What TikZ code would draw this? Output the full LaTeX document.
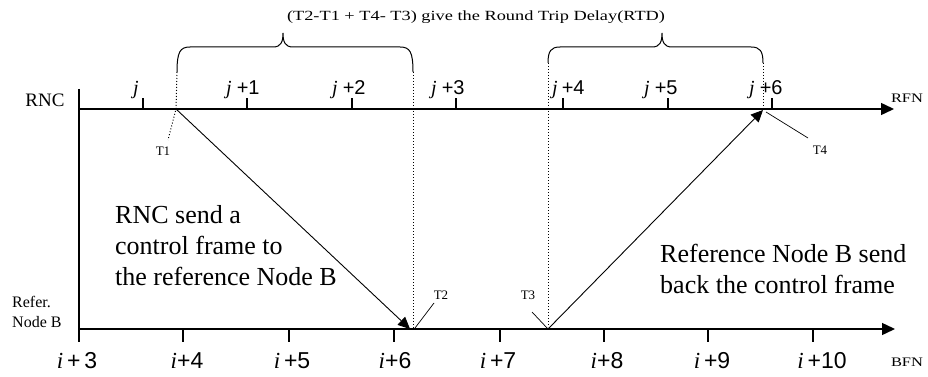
\documentclass[tikz,border=0pt]{standalone}
\usepackage{fontspec}
\setmainfont{Liberation Serif}
\newfontfamily\sansf{Liberation Sans}
\usetikzlibrary{arrows.meta}
\newcommand{\wfit}[2]{\resizebox{#1}{\height}{#2}}
\begin{document}
\begin{tikzpicture}[x=1pt,y=-1pt,
  axis/.style={line width=1.4pt},
  axarrow/.style={axis,-{Triangle[length=13pt,width=12pt]}},
  msg/.style={line width=0.9pt,-{Triangle[length=12pt,width=11pt]}},
  lead/.style={line width=0.7pt},
  dots/.style={line width=1pt,dotted},
  brace/.style={line width=1pt},
  tickl/.style={line width=1.3pt},
  toplab/.style={font=\fontsize{20}{20}\selectfont, anchor=base west, inner sep=0pt},
  botlab/.style={font=\fontsize{23}{23}\selectfont, anchor=base, inner sep=0pt},
  tlab/.style={font=\fontsize{13}{13}\selectfont, inner sep=0pt},
  body/.style={font=\fontsize{26}{31}\selectfont, align=left, anchor=north west, inner sep=0pt},
  side/.style={inner sep=0pt}
]
\path[use as bounding box] (0,0) rectangle (928,377);

% key points
\coordinate (vtop) at (79,89);
\coordinate (vbot) at (79,342);
\coordinate (rncL) at (79,109);
\coordinate (rncR) at (894,109);
\coordinate (bfnL) at (79,329);
\coordinate (bfnR) at (895,329);
\coordinate (T1p) at (176,109);
\coordinate (T2p) at (410,329);
\coordinate (T3p) at (548,329);
\coordinate (T4p) at (763,110);

% axes
\draw[axis] (vtop) -- (vbot);
\draw[axarrow] (rncL) -- (rncR);
\draw[axarrow] (bfnL) -- (bfnR);

% ticks
\foreach \x in {143,247,352,456,563,668,772} \draw[tickl] (\x,109) -- (\x,98);
\foreach \x in {183,289,394,500,604,708,813} \draw[tickl] (\x,329) -- (\x,342);

% top labels
\node[toplab] (j0) at (133,95) {\itshape j};
\node[toplab] (j1) at (226,95) {{\itshape j}\hspace{5pt}{\sansf +1}};
\node[toplab] (j2) at (332,95) {{\itshape j}\hspace{5pt}{\sansf +2}};
\node[toplab] (j3) at (431,95) {{\itshape j}\hspace{5pt}{\sansf +3}};
\node[toplab] (j4) at (552,95) {{\itshape j}\hspace{4pt}{\sansf +4}};
\node[toplab] (j5) at (644,95) {{\itshape j}\hspace{5pt}{\sansf +5}};
\node[toplab] (j6) at (749,95) {{\itshape j}\hspace{5pt}{\sansf +6}};

% bottom labels
\node[botlab] (i3) at (77,368) {{\itshape i}\,{\sansf +\,3}};
\node[botlab] (i4) at (187,368) {{\itshape i}{\sansf +4}};
\node[botlab] (i5) at (292,368) {{\itshape i}\,{\sansf +5}};
\node[botlab] (i6) at (395,368) {{\itshape i}{\sansf +6}};
\node[botlab] (i7) at (498,368) {{\itshape i}\,{\sansf +7}};
\node[botlab] (i8) at (607,368) {{\itshape i}{\sansf +8}};
\node[botlab] (i9) at (712,368) {{\itshape i}\,{\sansf +9}};
\node[botlab] (i10) at (822,368) {{\itshape i}\,{\sansf +10}};

% side labels
\node[side, font=\fontsize{19}{19}\selectfont] (rnc) at (45,100) {RNC};
\node[side, font=\fontsize{16}{20}\selectfont, align=left, anchor=west] (refb) at (12,312) {Refer.\\Node B};
\node[side] (rfn) at (907,98) {\wfit{32pt}{\fontsize{13}{13}\selectfont RFN}};
\node[side] (bfn) at (907,362) {\wfit{32pt}{\fontsize{13}{13}\selectfont BFN}};

% title
\node[side] (title) at (476,17) {\wfit{378pt}{\fontsize{14}{14}\selectfont (T2-T1 + T4- T3) give the Round Trip Delay(RTD)}};

% braces
\coordinate (b1L) at (177,72);
\coordinate (b1R) at (413,72);
\coordinate (b2L) at (548,63);
\coordinate (b2R) at (763,63);
\draw[brace] (b1L) .. controls (177,52) and (180,47) .. (190,47) -- (273,47)
  .. controls (281,47) and (283,42) .. (283,33)
  .. controls (283,42) and (285,47) .. (293,47) -- (400,47)
  .. controls (410,47) and (413,52) .. (b1R);
\draw[brace] (b2L) .. controls (548,51) and (551,47) .. (560,47) -- (652,47)
  .. controls (660,47) and (662,42) .. (662,33)
  .. controls (662,42) and (664,47) .. (672,47) -- (751,47)
  .. controls (760,47) and (763,51) .. (b2R);

% dotted guides
\coordinate (T1d) at (168,140);
\draw[dots] (b1L) -- (T1p) -- (T1d);
\draw[dots] (b1R) -- (413,329);
\draw[dots] (b2L) -- (548,327);
\draw[dots] (b2R) -- (763,109);

% messages
\draw[msg] (T1p) -- (T2p);
\draw[msg] (T3p) -- (T4p);

% T labels and leaders
\node[tlab] (T1) at (163,151) {T1};
\node[tlab] (T2) at (441,295) {T2};
\node[tlab] (T3) at (528,295) {T3};
\node[tlab] (T4) at (820,150) {T4};
\coordinate (T2a) at (434,303);
\coordinate (T2b) at (415,328);
\coordinate (T3a) at (532,312);
\coordinate (T4a) at (766,112);
\coordinate (T4b) at (808,138);
\draw[lead] (T2a) -- (T2b);
\draw[lead] (T3a) -- (T3p);
\draw[lead] (T4a) -- (T4b);

% body texts
\node[body] (txt1) at (115,205) {RNC send a\\control frame to\\the reference Node B};
\node[body] (txt2) at (660,244) {Reference Node B send\\back the control frame};
\end{tikzpicture}
\end{document}
